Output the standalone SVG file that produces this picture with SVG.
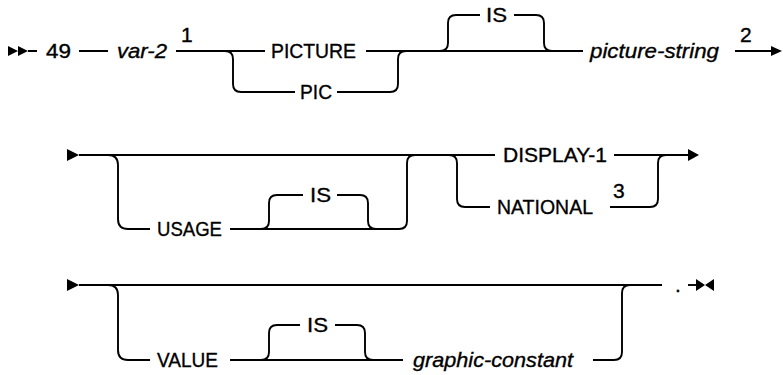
<svg xmlns="http://www.w3.org/2000/svg" width="783" height="375" viewBox="0 0 783 375">
<style>
.ln{fill:none;stroke:#000;stroke-width:1.9;stroke-linejoin:round}
.ah{fill:#000;stroke:none}
text{font-family:"Liberation Sans",Arial,sans-serif;font-size:21px;fill:#000;stroke:#000;stroke-width:0.35}
.it{font-style:italic}
</style>
<rect width="783" height="375" fill="#fff"/>
<g id="connectors">
<!-- row 1 -->
<path class="ah" d="M8,46 L18,51 L8,56 Z M18,46 L28,51 L18,56 Z"/>
<path class="ln" d="M28,51 H37 M79,51 H108 M176,51 H265 M366,51 H583 M735,51 H772"/>
<path class="ln" d="M225,51 Q233,51 233,59 V84 Q233,92 241,92 H295 M337,92 H390 Q398,92 398,84 V59 Q398,51 406,51"/>
<path class="ln" d="M440,51 Q448,51 448,43 V23 Q448,15 456,15 H480 M514,15 H536 Q544,15 544,23 V43 Q544,51 552,51"/>
<path class="ah" d="M771,46 L782,51 L771,56 Z"/>
<!-- row 2 -->
<path class="ah" d="M67,149 L79,155 L67,161 Z"/>
<path class="ln" d="M79,155 H495 M614,155 H688"/>
<path class="ln" d="M108,155 Q118,155 118,165 V219 Q118,229 128,229 H150 M230,229 H399 Q407,229 407,221 V163 Q407,155 415,155"/>
<path class="ln" d="M261,229 Q269,229 269,221 V203 Q269,195 277,195 H303 M337,195 H360 Q368,195 368,203 V221 Q368,229 376,229"/>
<path class="ln" d="M449,155 Q457,155 457,163 V199 Q457,207 465,207 H490 M610,207 H650 Q658,207 658,199 V163 Q658,155 666,155"/>
<path class="ah" d="M688,149 L699,155 L688,161 Z"/>
<!-- row 3 -->
<path class="ah" d="M67,279 L79,285 L67,291 Z"/>
<path class="ln" d="M79,285 H662"/>
<path class="ln" d="M108,285 Q118,285 118,295 V350 Q118,360 128,360 H150 M230,360 H403 M593,360 H614 Q622,360 622,352 V293 Q622,285 630,285"/>
<path class="ln" d="M261,360 Q269,360 269,352 V333 Q269,325 277,325 H300 M335,325 H357 Q365,325 365,333 V352 Q365,360 373,360"/>
<path class="ln" d="M688,285 H697"/>
<path class="ah" d="M696,279 L705,285 L696,291 Z M714,279 L705,285 L714,291 Z"/>
</g>
<g id="n-49"><text x="46" y="58" textLength="25" lengthAdjust="spacingAndGlyphs">49</text></g>
<g id="n-var2"><text class="it" x="117" y="58" textLength="50" lengthAdjust="spacingAndGlyphs">var-2</text></g>
<g id="n-note1"><text x="181" y="42">1</text></g>
<g id="n-picture"><text x="271" y="58" textLength="85" lengthAdjust="spacingAndGlyphs">PICTURE</text></g>
<g id="n-pic"><text x="300" y="99" textLength="32" lengthAdjust="spacingAndGlyphs">PIC</text></g>
<g id="n-is1"><text x="486" y="22" textLength="21" lengthAdjust="spacingAndGlyphs">IS</text></g>
<g id="n-picstring"><text class="it" x="590" y="58" textLength="129" lengthAdjust="spacingAndGlyphs">picture-string</text></g>
<g id="n-note2"><text x="740" y="42">2</text></g>
<g id="n-usage"><text x="157" y="236" textLength="65" lengthAdjust="spacingAndGlyphs">USAGE</text></g>
<g id="n-is2"><text x="310" y="202" textLength="21" lengthAdjust="spacingAndGlyphs">IS</text></g>
<g id="n-display1"><text x="503" y="162" textLength="104" lengthAdjust="spacingAndGlyphs">DISPLAY-1</text></g>
<g id="n-national"><text x="497" y="214" textLength="96" lengthAdjust="spacingAndGlyphs">NATIONAL</text></g>
<g id="n-note3"><text x="613" y="198">3</text></g>
<g id="n-value"><text x="157" y="367" textLength="61" lengthAdjust="spacingAndGlyphs">VALUE</text></g>
<g id="n-is3"><text x="307" y="332" textLength="21" lengthAdjust="spacingAndGlyphs">IS</text></g>
<g id="n-graphic"><text class="it" x="413" y="367" textLength="160" lengthAdjust="spacingAndGlyphs">graphic-constant</text></g>
<g id="n-period"><text x="675" y="292">.</text></g>
</svg>
